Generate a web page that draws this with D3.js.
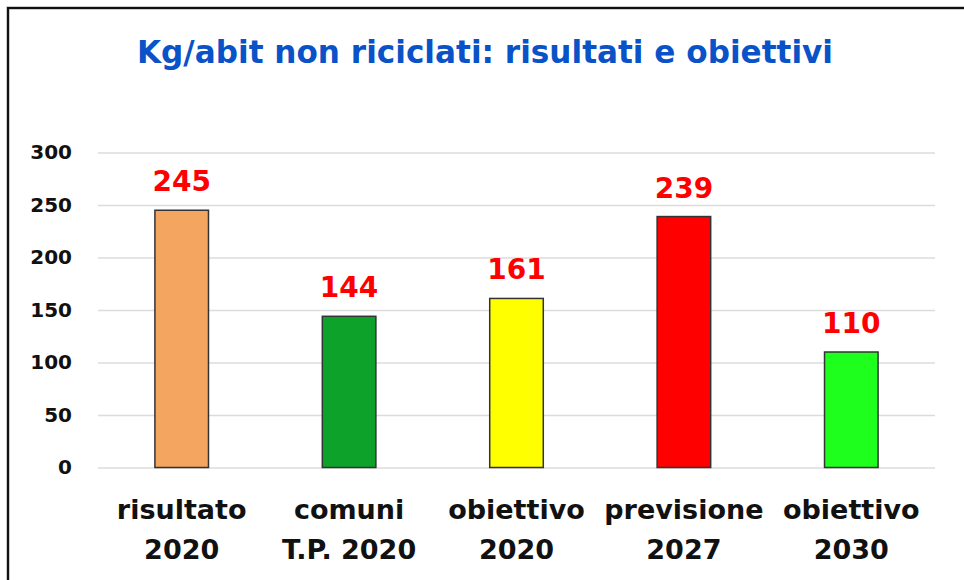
<!DOCTYPE html>
<html>
<head>
<meta charset="utf-8">
<script src="https://cdn.jsdelivr.net/npm/d3@7"></script>
<style>
  body { margin: 0; background: #fff; }
  svg { display: block; font-family: "DejaVu Sans", Verdana, sans-serif; }
</style>
</head>
<body>
<div class="grafico"></div>
<script>
/*Dati*/
const categories = ['risultato 2020', 'comuni T.P. 2020', 'obiettivo 2020', 'previsione 2027', 'obiettivo 2030'];
const labelTop = ['risultato', 'comuni', 'obiettivo', 'previsione', 'obiettivo'];
const labelBottom = ['2020', 'T.P. 2020', '2020', '2027', '2030'];
const values = [245, 144, 161, 239, 110];
const barColors = ['#F4A660', '#0DA32A', '#FFFF00', '#FF0000', '#1EFF1E'];
const yTicks = [0, 50, 100, 150, 200, 250, 300];

const w = 964;
const h = 580;
const plotLeft = 98, plotRight = 935, plotTop = 152.5, plotBottom = 467.5;

const svg = d3.select('.grafico')
  .append('svg')
  .attr('width', w)
  .attr('height', h);

/*Cornice*/
svg.append('path')
  .attr('d', `M8,${h} L8,8 L${w},8`)
  .attr('fill', 'none')
  .attr('stroke', '#999')
  .attr('stroke-width', 3);
svg.append('path')
  .attr('d', `M8,${h} L8,8 L${w},8`)
  .attr('fill', 'none')
  .attr('stroke', '#111')
  .attr('stroke-width', 2);

/*Titolo*/
svg.append('text')
  .attr('x', 485)
  .attr('y', 63)
  .attr('text-anchor', 'middle')
  .attr('fill', '#0A52C8')
  .style('font-size', '32px')
  .style('font-weight', 'bold')
  .attr('textLength', 696)
  .attr('lengthAdjust', 'spacingAndGlyphs')
  .text('Kg/abit non riciclati: risultati e obiettivi');

/*Scale*/
const xScale = d3.scaleBand()
  .domain(categories)
  .range([plotLeft, plotRight])
  .paddingInner(0.68)
  .paddingOuter(0.34);

const yScale = d3.scaleLinear()
  .domain([0, 300])
  .range([plotBottom, plotTop]);

/*Asse y con griglia*/
const yAxis = d3.axisLeft(yScale)
  .tickValues(yTicks)
  .tickSize(-(plotRight - plotLeft))
  .tickPadding(26);

const gy = svg.append('g')
  .attr('transform', `translate(${plotLeft},0)`)
  .call(yAxis);
gy.select('.domain').remove();
gy.selectAll('line')
  .attr('stroke', '#DCDCDC')
  .attr('stroke-width', 1.5);
gy.selectAll('text')
  .attr('fill', '#111')
  .style('font-size', '20px')
  .style('font-weight', 'bold')
  .style('font-family', '"DejaVu Sans", Verdana, sans-serif');

/*Barre*/
svg.selectAll('rect.bar')
  .data(values)
  .enter()
  .append('rect')
  .attr('class', 'bar')
  .attr('x', (d, i) => xScale(categories[i]))
  .attr('y', d => yScale(d))
  .attr('width', xScale.bandwidth())
  .attr('height', d => yScale(0) - yScale(d))
  .attr('fill', (d, i) => barColors[i])
  .attr('stroke', '#333')
  .attr('stroke-width', 1.5);

/*Etichette valori*/
svg.selectAll('text.val')
  .data(values)
  .enter()
  .append('text')
  .attr('class', 'val')
  .attr('x', (d, i) => xScale(categories[i]) + xScale.bandwidth() / 2)
  .attr('y', d => yScale(d) - 19)
  .attr('text-anchor', 'middle')
  .attr('fill', '#FF0000')
  .style('font-size', '28px')
  .style('font-weight', 'bold')
  .text(d => d);

/*Etichette categorie*/
const gx = svg.append('g');
categories.forEach((c, i) => {
  const cx = xScale(c) + xScale.bandwidth() / 2;
  const t = gx.append('text')
    .attr('text-anchor', 'middle')
    .attr('fill', '#111')
    .style('font-size', '27px')
    .style('font-weight', 'bold');
  t.append('tspan').attr('x', cx).attr('y', 519).text(labelTop[i]);
  t.append('tspan').attr('x', cx).attr('y', 559).text(labelBottom[i]);
});
</script>
</body>
</html>
